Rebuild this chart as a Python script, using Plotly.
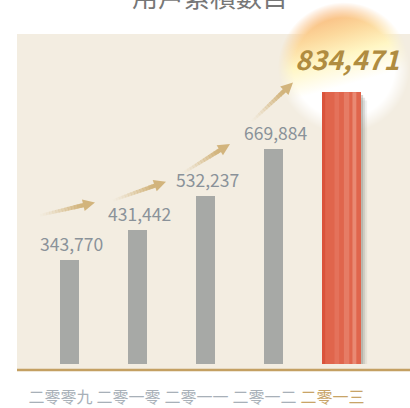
import base64
import plotly.graph_objects as go

# Cumulative user counts per year
years = ["二零零九", "二零一零", "二零一一", "二零一二", "二零一三"]
users = [343770, 431442, 532237, 669884, 834471]
title_text = "用戶累積數目"

W, H = 410, 408
ML, MR, MT, MB = 17, 0, 34, 41
PW, PH = W - ML - MR, H - MT - MB
Y_MIN, Y_MAX = 40000, 1005000

PANEL = "#f3ede1"
GOLD = "#c4a062"
BAR_GRAY = "#a7a9a6"
LABEL_GRAY = "#8a9299"
HIGHLIGHT = "#e0654c"
NUM_FONT = "Noto Sans CJK TC, Liberation Sans Narrow, sans-serif"
CJK_FONT = "Noto Sans CJK TC, Noto Sans CJK SC, sans-serif"

last = len(years) - 1
widths = [0.28] * last + [0.574]
colors = [BAR_GRAY] * last + [HIGHLIGHT]


def px(x, y):
    """Pixel position -> paper coordinates."""
    return (x - ML) / PW, (MT + PH - y) / PH


fig = go.Figure(
    go.Bar(
        x=years,
        y=users,
        width=widths,
        marker=dict(color=colors, line=dict(width=0)),
        hoverinfo="x+y",
    )
)

shapes = []
# beige strip between the bars' foot and the gold base line
_, yb0 = px(0, 367)
_, yb1 = px(0, 372)
shapes.append(dict(type="rect", xref="paper", yref="paper", x0=0, x1=1, y0=yb1, y1=yb0,
                   fillcolor=PANEL, line=dict(width=0), layer="below"))
_, yline = px(0, 373)
shapes.append(dict(type="line", xref="paper", yref="paper", x0=0, x1=1, y0=yline, y1=yline,
                   line=dict(color=GOLD, width=2.5)))

# soft shadow on the right of the highlighted bar
right_edge = last + widths[last] / 2
left_edge = last - widths[last] / 2
for i, (d, op) in enumerate([(0.03, 0.35), (0.06, 0.22), (0.09, 0.12)]):
    shapes.append(dict(type="rect", xref="x", yref="y",
                       x0=right_edge, x1=right_edge + d,
                       y0=Y_MIN, y1=users[last] - 8000 * (i + 1),
                       fillcolor="#8a8a80", opacity=op, line=dict(width=0), layer="below"))
# sheen on the highlighted bar: darker left edge, lighter bands toward the right
sheen = [(0.0, 0.08, "#d3422a", 0.5),
         (0.32, 0.44, "#f3a590", 0.22),
         (0.56, 0.70, "#f6b4a0", 0.3),
         (0.78, 0.88, "#f8c4b2", 0.38)]
for f0, f1, col, op in sheen:
    shapes.append(dict(type="rect", xref="x", yref="y",
                       x0=left_edge + f0 * widths[last], x1=left_edge + f1 * widths[last],
                       y0=Y_MIN, y1=users[last],
                       fillcolor=col, opacity=op, line=dict(width=0)))

# growth arrows fading in from their tails
arrows = [((40, 217), (95, 204)), ((113, 202), (166, 183)),
          ((182, 175), (230, 145)), ((252, 122), (293, 83))]
ARROW = "#d2b47c"
for (tx, ty), (hx, hy) in arrows:
    dx, dy = hx - tx, hy - ty
    ln = (dx * dx + dy * dy) ** 0.5
    ux, uy = dx / ln, dy / ln
    hl, hw = 12, 6
    bx, by = hx - ux * hl, hy - uy * hl
    n = 14
    for k in range(n):
        a0, a1 = k / n, (k + 1) / n
        sx0, sy0 = tx + (bx - tx) * a0, ty + (by - ty) * a0
        sx1, sy1 = tx + (bx - tx) * a1, ty + (by - ty) * a1
        p0, p1 = px(sx0, sy0), px(sx1 + ux * 0.6, sy1 + uy * 0.6)
        shapes.append(dict(type="line", xref="paper", yref="paper",
                           x0=p0[0], y0=p0[1], x1=p1[0], y1=p1[1],
                           line=dict(color=ARROW, width=2.6 + 1.8 * a1),
                           opacity=min(1, (a1 ** 1.4) * 1.05)))
    nx, ny = -uy, ux
    pts = [(hx, hy), (bx + nx * hw, by + ny * hw), (bx - nx * hw, by - ny * hw)]
    pp = [px(a, b) for a, b in pts]
    path = "M {} {} L {} {} L {} {} Z".format(*[v for p in pp for v in p])
    shapes.append(dict(type="path", xref="paper", yref="paper", path=path,
                       fillcolor=ARROW, line=dict(width=0)))

# glow behind the latest figure
glow_svg = """<svg xmlns='http://www.w3.org/2000/svg' width='160' height='160'>
<defs>
<linearGradient id='c' x1='0.38' y1='0' x2='0.66' y2='1'>
<stop offset='0.1' stop-color='#f8b277'/>
<stop offset='0.28' stop-color='#fcd89c'/>
<stop offset='0.42' stop-color='#fff6c4'/>
<stop offset='0.6' stop-color='#ffffff'/>
</linearGradient>
<radialGradient id='a'>
<stop offset='0' stop-color='#fff'/>
<stop offset='0.76' stop-color='#fff'/>
<stop offset='1' stop-color='#000'/>
</radialGradient>
<mask id='m'><circle cx='80' cy='80' r='66' fill='url(#a)'/></mask>
</defs>
<rect width='160' height='160' fill='url(#c)' mask='url(#m)'/>
</svg>"""
glow_src = "data:image/svg+xml;base64," + base64.b64encode(glow_svg.encode()).decode()
gx, gy = px(344 - 80, 68 - 80)
images = [dict(source=glow_src, xref="paper", yref="paper", x=gx, y=gy,
               sizex=160 / PW, sizey=160 / PH, xanchor="left", yanchor="top",
               sizing="stretch", layer="below")]

annotations = []
for i, (yr, v) in enumerate(zip(years, users)):
    if i < last:
        annotations.append(dict(x=yr, y=v, xref="x", yref="y", text=f"{v:,}",
                                showarrow=False, yanchor="bottom", yshift=2, xshift=2,
                                font=dict(family=NUM_FONT, size=17.5, color=LABEL_GRAY)))
    else:
        annotations.append(dict(x=yr, y=v, xref="x", yref="y",
                                text=f"<b><i>{v:,}</i></b>",
                                showarrow=False, yanchor="bottom", yshift=12, xshift=5,
                                font=dict(family=NUM_FONT, size=27, color="#b08c40")))

tx_, ty_ = px(209.5, -5)
annotations.append(dict(x=tx_, y=ty_, xref="paper", yref="paper", text=title_text,
                        showarrow=False, yanchor="middle",
                        font=dict(family=CJK_FONT, size=26, color="#777777")))

ticktext = list(years[:last]) + [f"<span style='color:#c8a468'>{years[last]}</span>"]

fig.update_layout(
    width=W, height=H,
    margin=dict(l=ML, r=MR, t=MT, b=MB, pad=0),
    paper_bgcolor="white",
    plot_bgcolor=PANEL,
    showlegend=False,
    bargap=0,
    xaxis=dict(range=[-0.772, 5.007], tickvals=years, ticktext=ticktext,
               showgrid=False, zeroline=False, showline=False, ticks="",
               ticklabelstandoff=22, ticklabelshift=-9,
               tickfont=dict(family=CJK_FONT, size=16, color="#a8b0b8"),
               fixedrange=True),
    yaxis=dict(range=[Y_MIN, Y_MAX], visible=False, fixedrange=True),
    shapes=shapes,
    images=images,
    annotations=annotations,
)

fig.write_html("out.html")
